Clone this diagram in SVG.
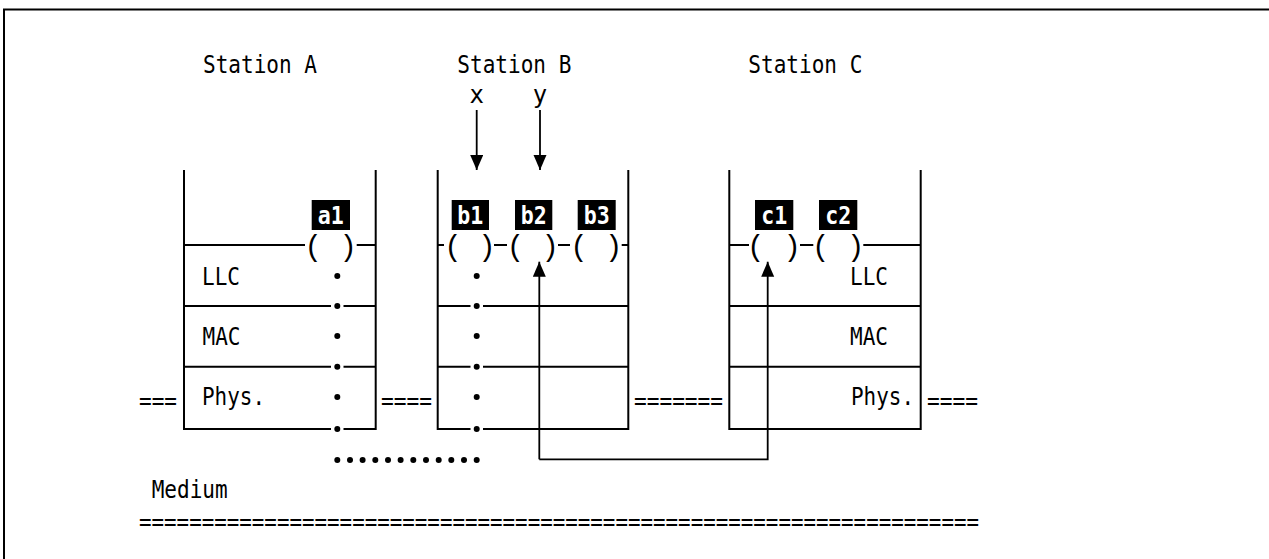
<svg xmlns="http://www.w3.org/2000/svg" width="1269" height="559" viewBox="0 0 1269 559">
<style>
.t{font-family:"DejaVu Sans Mono","Liberation Mono",monospace;font-size:24px;fill:#000}
.p{font-family:"Liberation Mono","DejaVu Sans Mono",monospace;font-size:29px;fill:#000;text-anchor:middle}
.lb{font-family:"DejaVu Sans Mono","Liberation Mono",monospace;font-size:25px;font-weight:bold;fill:#fff;text-anchor:middle}
.box{fill:none;stroke:#000;stroke-width:2}
.ln{stroke:#000;stroke-width:2;fill:none}
.cn{stroke:#000;stroke-width:1.8;fill:none}
.dot{fill:#000}
</style>
<defs>
<marker id="ah" markerUnits="userSpaceOnUse" markerWidth="16" markerHeight="14" refX="15" refY="6.5" orient="auto">
<path d="M0,0 L15,6.5 L0,13 z" fill="#000"/>
</marker>
</defs>
<rect width="1269" height="559" fill="#fff"/>
<g id="frame">
<path class="ln" d="M4,559 V9.5 H1269" stroke-width="2.5"/>
</g>

<g id="station-a">
<text class="t" x="203" y="73.3" textLength="114" lengthAdjust="spacingAndGlyphs">Station A</text>
<path class="box" d="M184,170 V429 H331 M343.5,429 H375.7 V170"/>
<path class="ln" d="M184,245 H305 M356.7,245 H375.7"/>
<path class="ln" d="M184,306 H331 M343.5,306 H375.7 M184,366.7 H331 M343.5,366.7 H375.7"/>
<rect x="311.7" y="200" width="38.3" height="30" fill="#000"/>
<text class="lb" x="330.8" y="223.5" textLength="26" lengthAdjust="spacingAndGlyphs">a1</text>
<text class="p" x="313.3" y="256">(</text>
<text class="p" x="348.3" y="256">)</text>
<text class="t" x="202" y="285" textLength="38" lengthAdjust="spacingAndGlyphs">LLC</text>
<text class="t" x="202.5" y="345" textLength="38" lengthAdjust="spacingAndGlyphs">MAC</text>
<text class="t" x="202" y="405" textLength="63" lengthAdjust="spacingAndGlyphs">Phys.</text>
<circle class="dot" cx="337.3" cy="276" r="3"/>
<circle class="dot" cx="337.3" cy="306" r="3"/>
<circle class="dot" cx="337.3" cy="336" r="3"/>
<circle class="dot" cx="337.3" cy="366.7" r="3"/>
<circle class="dot" cx="337.3" cy="397" r="3"/>
<circle class="dot" cx="337.3" cy="429" r="3"/>
</g>

<g id="station-b">
<text class="t" x="457.3" y="73.3" textLength="114" lengthAdjust="spacingAndGlyphs">Station B</text>
<text class="t" x="476.7" y="103.3" text-anchor="middle">x</text>
<text class="t" x="540" y="103.3" text-anchor="middle">y</text>
<path class="box" d="M437.7,170 V429 H470.5 M483,429 H628.3 V170"/>
<path class="ln" d="M437.7,245 H444 M494,245 H507 M558,245 H570 M621.7,245 H628.3"/>
<path class="ln" d="M437.7,306 H470.5 M483,306 H628.3 M437.7,366.7 H470.5 M483,366.7 H628.3"/>
<rect x="451.7" y="200" width="37.3" height="30" fill="#000"/>
<rect x="515" y="200" width="37.3" height="30" fill="#000"/>
<rect x="577.7" y="200" width="38" height="30" fill="#000"/>
<text class="lb" x="470.3" y="223.5" textLength="26" lengthAdjust="spacingAndGlyphs">b1</text>
<text class="lb" x="533.7" y="223.5" textLength="26" lengthAdjust="spacingAndGlyphs">b2</text>
<text class="lb" x="596.7" y="223.5" textLength="26" lengthAdjust="spacingAndGlyphs">b3</text>
<text class="p" x="453" y="256">(</text>
<text class="p" x="487" y="256">)</text>
<text class="p" x="515.5" y="256">(</text>
<text class="p" x="550.3" y="256">)</text>
<text class="p" x="579" y="256">(</text>
<text class="p" x="613.7" y="256">)</text>
<circle class="dot" cx="476.7" cy="276" r="3"/>
<circle class="dot" cx="476.7" cy="306" r="3"/>
<circle class="dot" cx="476.7" cy="336" r="3"/>
<circle class="dot" cx="476.7" cy="366.7" r="3"/>
<circle class="dot" cx="476.7" cy="397" r="3"/>
<circle class="dot" cx="476.7" cy="429" r="3"/>
</g>

<g id="station-c">
<text class="t" x="748.3" y="73.3" textLength="114" lengthAdjust="spacingAndGlyphs">Station C</text>
<path class="box" d="M729.3,170 V429 H920.7 V170"/>
<path class="ln" d="M729.3,245 H749 M800,245 H813.3 M863.3,245 H920.7"/>
<path class="ln" d="M729.3,306 H920.7 M729.3,366.7 H920.7"/>
<rect x="755" y="200" width="38.3" height="30" fill="#000"/>
<rect x="819" y="200" width="38.3" height="30" fill="#000"/>
<text class="lb" x="774.2" y="223.5" textLength="26" lengthAdjust="spacingAndGlyphs">c1</text>
<text class="lb" x="838.2" y="223.5" textLength="26" lengthAdjust="spacingAndGlyphs">c2</text>
<text class="p" x="755.8" y="256">(</text>
<text class="p" x="792.3" y="256">)</text>
<text class="p" x="820.8" y="256">(</text>
<text class="p" x="855.8" y="256">)</text>
<text class="t" x="850" y="285" textLength="38" lengthAdjust="spacingAndGlyphs">LLC</text>
<text class="t" x="850" y="345" textLength="38" lengthAdjust="spacingAndGlyphs">MAC</text>
<text class="t" x="851" y="405" textLength="63" lengthAdjust="spacingAndGlyphs">Phys.</text>
</g>

<g id="medium">
<text class="t" x="139" y="408.5" textLength="38" lengthAdjust="spacingAndGlyphs">===</text>
<text class="t" x="381" y="408.5" textLength="51" lengthAdjust="spacingAndGlyphs">====</text>
<text class="t" x="634" y="408.5" textLength="89" lengthAdjust="spacingAndGlyphs">=======</text>
<text class="t" x="927" y="408.5" textLength="51" lengthAdjust="spacingAndGlyphs">====</text>
<text class="t" x="151.7" y="498.3" textLength="76" lengthAdjust="spacingAndGlyphs">Medium</text>
<text class="t" x="139" y="529.5" textLength="840" lengthAdjust="spacingAndGlyphs">===================================================================</text>
</g>

<g id="connectors">
<path class="cn" d="M476.7,110 V170" marker-end="url(#ah)"/>
<path class="cn" d="M540,110 V170" marker-end="url(#ah)"/>
<path class="cn" d="M539.3,459.3 V261.7" marker-end="url(#ah)"/>
<path class="cn" d="M539.3,459.3 H767.7 V261.7" marker-end="url(#ah)"/>
<g class="dot">
<circle cx="337.3" cy="460" r="3"/>
<circle cx="350" cy="460" r="3"/>
<circle cx="362.6" cy="460" r="3"/>
<circle cx="375.3" cy="460" r="3"/>
<circle cx="388" cy="460" r="3"/>
<circle cx="400.6" cy="460" r="3"/>
<circle cx="413.3" cy="460" r="3"/>
<circle cx="426" cy="460" r="3"/>
<circle cx="438.7" cy="460" r="3"/>
<circle cx="451.3" cy="460" r="3"/>
<circle cx="464" cy="460" r="3"/>
<circle cx="476.7" cy="460" r="3"/>
</g>
</g>
</svg>
